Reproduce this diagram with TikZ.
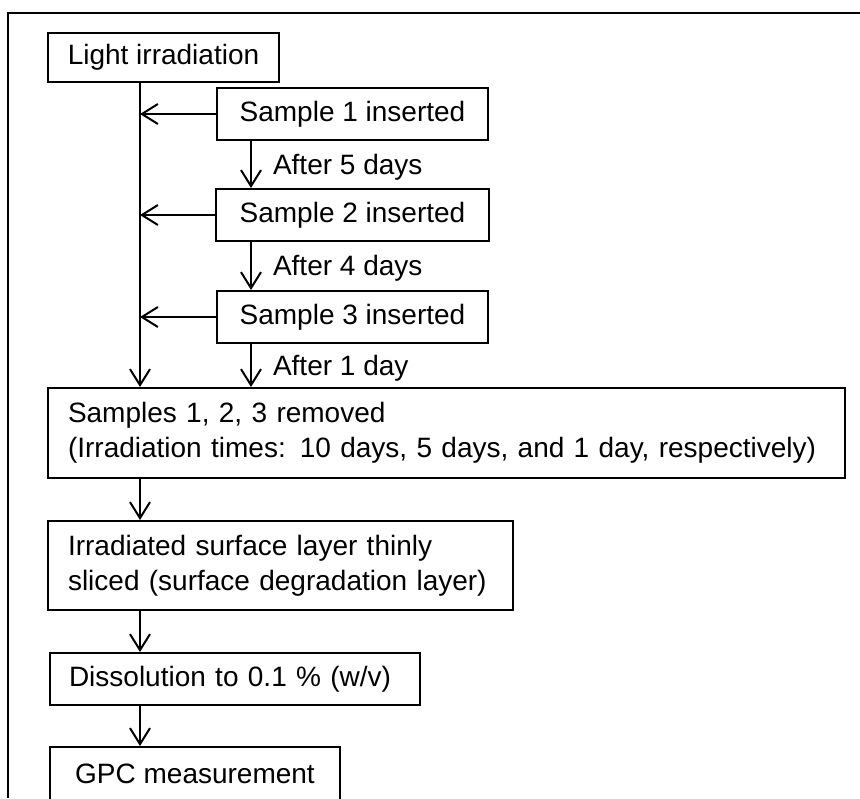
\documentclass[tikz,border=0pt]{standalone}
\usepackage{fontspec}
\setmainfont{Liberation Sans}
\usetikzlibrary{arrows.meta, positioning}

\begin{document}
\begin{tikzpicture}[
  x=0.5pt, y=-0.5pt,
  box/.style={draw=black, line width=1pt, font=\fontsize{14}{17.5}\selectfont, inner sep=3pt},
  stepc/.style={box, align=center, minimum height=26pt},
  stepl/.style={box, align=left, inner xsep=10pt, anchor=north west},
  arrow/.style={-{Straight Barb[length=8pt, width=10pt]}, line width=1pt},
  note/.style={font=\fontsize{14}{17.5}\selectfont, inner sep=2pt},
  frame/.style={line width=1pt}
]

  \useasboundingbox (0,0) rectangle (860,798);
  \draw[frame] (8,798) -- (8,13) -- (860,13);

  % guide lines for the arrows
  \coordinate (trunk) at (140,0);
  \coordinate (drop) at (251,0);

  % Irradiation and sample insertion
  \node[stepc, minimum width=115.5pt, minimum height=24.5pt, anchor=north west] (light) at (47,32) {Light irradiation};
  \node[stepc, minimum width=135.5pt, anchor=north west] (s1) at (216,87) {Sample 1 inserted};
  \node[stepc, minimum width=136.5pt, below=23.5pt of s1] (s2) {Sample 2 inserted};
  \node[stepc, minimum width=135.5pt, below=24pt of s2] (s3) {Sample 3 inserted};

  \draw[arrow] (s1) -- (s1 -| trunk);
  \draw[arrow] (s2) -- (s2 -| trunk);
  \draw[arrow] (s3) -- (s3 -| trunk);
  \draw[arrow] (s1.south -| drop) -- node[note, midway, right=8.5pt, yshift=-1.25pt] {After 5 days} (s2.north -| drop);
  \draw[arrow] (s2.south -| drop) -- node[note, midway, right=8.5pt, yshift=-1.25pt] {After 4 days} (s3.north -| drop);

  % Removal and analysis
  \node[stepl, text width=378.5pt, minimum height=45pt] (removed) at (47,387) {Samples 1, 2, 3 removed\\(Irradiation times: 10 days, 5 days, and 1 day, respectively)};
  \node[stepl, text width=212.5pt, minimum height=44.5pt, below=20.5pt of removed.south west, anchor=north west] (sliced) {Irradiated surface layer thinly\\sliced (surface degradation layer)};
  \node[stepl, text width=166pt, minimum height=26pt, below=20.5pt of sliced.south west, anchor=north west, xshift=1pt, inner xsep=9.5pt] (dissol) {Dissolution to 0.1 \% (w/v)};
  \node[stepc, minimum width=145pt, minimum height=26.5pt, below=20pt of dissol.south west, anchor=north west] (gpc) {GPC measurement};

  \draw[arrow] (light.south -| trunk) -- (removed.north -| trunk);
  \draw[arrow] (s3.south -| drop) -- node[note, midway, right=8.5pt, yshift=-1.25pt] {After 1 day} (removed.north -| drop);
  \draw[arrow] (removed.south -| trunk) -- (sliced.north -| trunk);
  \draw[arrow] (sliced.south -| trunk) -- (dissol.north -| trunk);
  \draw[arrow] (dissol.south -| trunk) -- (gpc.north -| trunk);

\end{tikzpicture}
\end{document}
